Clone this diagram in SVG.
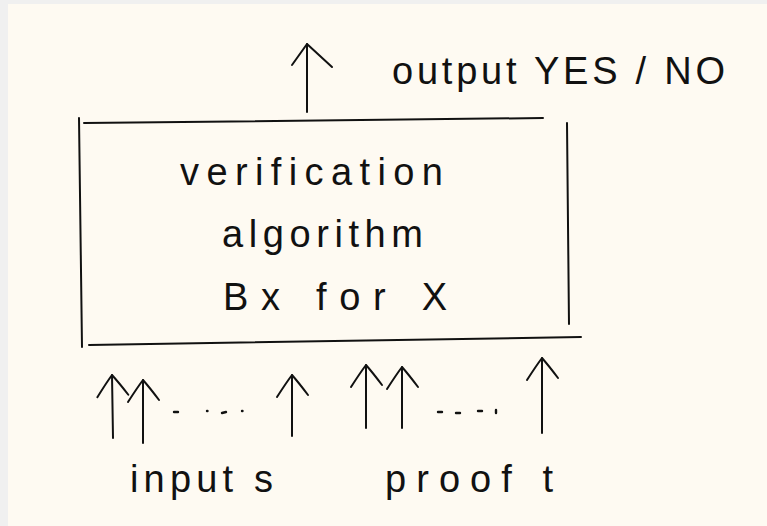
<svg xmlns="http://www.w3.org/2000/svg" width="767" height="526" viewBox="0 0 767 526">
  <style>
    .ink { stroke: #111; stroke-width: 2; fill: none; stroke-linecap: round; stroke-linejoin: round; }
    .dot { stroke: #111; stroke-width: 2.4; fill: none; stroke-linecap: round; }
    .lbl { font-family: "Liberation Sans", Arial, sans-serif; font-size: 38px; fill: #111; }
  </style>
  <defs>
    <marker id="head" markerUnits="userSpaceOnUse" orient="auto" refX="0" refY="0" markerWidth="40" markerHeight="40" viewBox="-30 -20 40 40" overflow="visible">
      <path d="M-22,-15 Q-8,-6 0,0 Q-8,7 -20,16" fill="none" stroke="#111" stroke-width="2" stroke-linecap="round" stroke-linejoin="round"/>
    </marker>
    <marker id="headBig" markerUnits="userSpaceOnUse" orient="auto" refX="0" refY="0" markerWidth="50" markerHeight="50" viewBox="-30 -25 50 50" overflow="visible">
      <path d="M-21,-15 L0,0 L-23,25" fill="none" stroke="#111" stroke-width="2" stroke-linecap="round" stroke-linejoin="round"/>
    </marker>
  </defs>

  <rect x="0" y="0" width="767" height="526" fill="#f0f0f0"/>
  <rect x="8" y="4" width="759" height="522" fill="#fefaf2"/>

  <g id="verifier">
    <path class="ink" d="M84,123 L543,118"/>
    <path class="ink" d="M79,118 L82,347"/>
    <path class="ink" d="M567,123 L569,324"/>
    <path class="ink" d="M89,345 L581,337"/>
    <text class="lbl" x="180" y="185" textLength="263" lengthAdjust="spacing">verification</text>
    <text class="lbl" x="222" y="247" textLength="201" lengthAdjust="spacing">algorithm</text>
    <text class="lbl" x="223" y="310" textLength="224" lengthAdjust="spacing">Bx for X</text>
  </g>

  <g id="output-label">
    <text class="lbl" x="392" y="84" textLength="333" lengthAdjust="spacing">output YES / NO</text>
  </g>

  <g id="input-label">
    <text class="lbl" x="130" y="492" textLength="143" lengthAdjust="spacing">input s</text>
  </g>

  <g id="proof-label">
    <text class="lbl" x="385" y="492" textLength="168" lengthAdjust="spacing">proof t</text>
  </g>

  <g id="connectors">
    <path class="ink" d="M307,112 L307,44" marker-end="url(#headBig)"/>
    <path class="ink" d="M113,438 L112,375" marker-end="url(#head)"/>
    <path class="ink" d="M143,443 L143,380" marker-end="url(#head)"/>
    <path class="ink" d="M292,436 L292,375" marker-end="url(#head)"/>
    <path class="ink" d="M366,428 L366,365" marker-end="url(#head)"/>
    <path class="ink" d="M402,428 L402,367" marker-end="url(#head)"/>
    <path class="ink" d="M542,433 L542,358" marker-end="url(#head)"/>
    <g id="ellipsis-inputs">
      <path class="dot" d="M174,412 L178,412"/>
      <path class="dot" d="M207,411 L207.5,411"/>
      <path class="dot" d="M222,413 L226,412"/>
      <path class="dot" d="M242,411 L242.5,411"/>
    </g>
    <g id="ellipsis-proof">
      <path class="dot" d="M438,412 L442,412"/>
      <path class="dot" d="M456,413 L460,413"/>
      <path class="dot" d="M478,411 L482,411"/>
      <path class="dot" d="M496,410 L496,413"/>
    </g>
  </g>
</svg>
